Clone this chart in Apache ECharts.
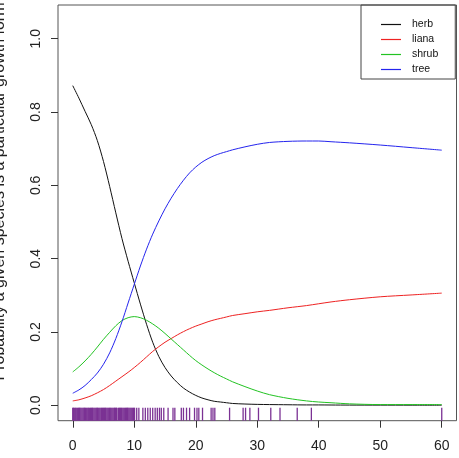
<!DOCTYPE html>
<html>
<head>
<meta charset="utf-8">
<script src="https://cdn.jsdelivr.net/npm/echarts@6/dist/echarts.min.js"></script>
<style>
  html, body { margin: 0; padding: 0; background: #fff; }
  #main { width: 459px; height: 458px; }
</style>
</head>
<body>
<div id="main"></div>
<script>
// x grid for the fitted curves
var curveX = [0, 1, 2, 3, 4, 5, 6, 7, 8, 9, 10, 11, 12, 13, 14, 15, 16, 17, 18, 19, 20, 21, 22, 23, 24, 25, 26,
  28, 30, 32, 35, 38, 40, 42, 45, 50, 55, 60];
var herb  = [0.872, 0.838, 0.802, 0.766, 0.722, 0.665, 0.597, 0.525, 0.455, 0.393, 0.334, 0.276, 0.221, 0.172, 0.133, 0.103,
  0.080, 0.062, 0.047, 0.036, 0.027, 0.020, 0.015, 0.011, 0.009, 0.007, 0.005,
  0.0035, 0.0025, 0.002, 0.0015, 0.001, 0.001, 0.0008, 0.0006, 0.0005, 0.0004, 0.0003];
var liana = [0.012, 0.015, 0.020, 0.026, 0.034, 0.043, 0.054, 0.066, 0.078, 0.090, 0.103, 0.117, 0.132, 0.147, 0.160, 0.172,
  0.182, 0.192, 0.201, 0.209, 0.216, 0.222, 0.228, 0.233, 0.237, 0.241, 0.245,
  0.250, 0.255, 0.259, 0.266, 0.272, 0.277, 0.282, 0.288, 0.296, 0.301, 0.306];
var shrub = [0.091, 0.105, 0.121, 0.139, 0.159, 0.180, 0.199, 0.217, 0.231, 0.239, 0.242, 0.239, 0.232, 0.222, 0.210, 0.196,
  0.181, 0.166, 0.151, 0.136, 0.122, 0.110, 0.099, 0.089, 0.080, 0.072, 0.064,
  0.051, 0.039, 0.029, 0.019, 0.012, 0.009, 0.007, 0.004, 0.002, 0.002, 0.002];
var tree  = [0.033, 0.042, 0.054, 0.070, 0.088, 0.112, 0.143, 0.182, 0.228, 0.279, 0.330, 0.380, 0.426, 0.467, 0.503, 0.536,
  0.565, 0.591, 0.614, 0.634, 0.650, 0.663, 0.673, 0.681, 0.687, 0.692, 0.697,
  0.705, 0.712, 0.717, 0.720, 0.721, 0.721, 0.719, 0.716, 0.710, 0.703, 0.696];

// observed x values drawn as a rug
var rugX = [0, 0.1, 0.25, 0.4, 0.5, 0.65, 0.8, 0.95, 1.1, 1.2, 1.35, 1.5, 1.65, 1.8, 1.9, 2.05, 2.2, 2.35, 2.5, 2.6,
  2.75, 2.9, 3.05, 3.2, 3.3, 3.45, 3.6, 3.75, 3.9, 4.0, 4.15, 4.3, 4.45, 4.6, 4.7, 4.85, 5.0, 5.15, 5.3, 5.4,
  5.55, 5.7, 5.85, 6.0, 6.1, 6.25, 6.4, 6.55, 6.7, 6.8, 6.95, 7.1, 7.2,
  7.45, 7.6, 7.75, 7.9, 8.0, 8.15, 8.3, 8.45, 8.6, 8.75, 8.9, 9.0,
  9.15, 9.3, 9.45, 9.6, 9.75, 9.9,
  10.05, 10.4, 10.75, 11.4, 11.8, 12.2, 12.6, 13.0, 13.4, 13.75, 14.1, 14.4, 14.8, 15.5, 16.3, 16.6,
  17.65, 18.0, 18.5, 19.0, 19.8, 20.2, 20.5, 21.1, 22.5, 22.8, 23.1, 25.5, 27.7, 28.1, 28.8, 30.2,
  32.2, 33.7, 36.5, 38.8, 60];

var xTicks = [0, 10, 20, 30, 40, 50, 60];
var yTicks = [0, 0.2, 0.4, 0.6, 0.8, 1.0];

var names  = ['herb', 'liana', 'shrub', 'tree'];
var colors = ['#111111', '#ee2222', '#22c322', '#2424ee'];

var X_MIN = -2.4, X_MAX = 62.4;
var Y_MIN = -0.042, Y_MAX = 1.092;
var FONT = 'Liberation Sans, Arial, sans-serif';

function pairs(ys) {
    return curveX.map(function (x, i) { return [x, ys[i]]; });
}

function lineSeries(name, ys, color) {
    return {
        name: name,
        type: 'line',
        data: pairs(ys),
        smooth: 0.3,
        symbol: 'none',
        lineStyle: {width: 1, color: color},
        itemStyle: {color: color},
        silent: true
    };
}

var chart = echarts.init(document.getElementById('main'), null, {renderer: 'canvas'});

var option = {
    animation: false,
    backgroundColor: '#fff',
    grid: {
        left: 58, right: 2.5, top: 5, bottom: 37.3,
        show: true, borderColor: '#555', borderWidth: 1
    },
    legend: {
        orient: 'vertical',
        left: 361,
        top: 5,
        padding: [14, 17, 4, 20],
        itemWidth: 20,
        itemHeight: 12,
        itemGap: 4,
        borderColor: '#444',
        borderWidth: 1,
        selectedMode: false,
        textStyle: {fontSize: 10.5, color: '#111', fontFamily: FONT, padding: [0, 0, 0, 6]},
        data: names.map(function (n, i) {
            return {name: n, icon: 'path://M0,0H20V1.2H0Z', itemStyle: {color: colors[i], opacity: 1}};
        })
    },
    xAxis: {
        type: 'value',
        min: X_MIN,
        max: X_MAX,
        axisLine: {show: false, onZero: false},
        splitLine: {show: false},
        axisTick: {show: true, customValues: xTicks, length: 7, lineStyle: {color: '#333'}},
        axisLabel: {customValues: xTicks, margin: 18, fontSize: 14, color: '#222', fontFamily: FONT}
    },
    yAxis: {
        type: 'value',
        min: Y_MIN,
        max: Y_MAX,
        axisLine: {show: false, onZero: false},
        splitLine: {show: false},
        axisTick: {show: true, customValues: yTicks, length: 7, lineStyle: {color: '#333'}},
        axisLabel: {
            customValues: yTicks, rotate: 90, margin: 15, fontSize: 14, color: '#222', fontFamily: FONT,
            formatter: function (v) { return v.toFixed(1); }
        }
    },
    graphic: [{
        type: 'text',
        x: -0.5,
        y: 191.5,
        rotation: Math.PI / 2,
        style: {
            text: 'Probability a given species is a particular growth form',
            fontSize: 16,
            fontFamily: FONT,
            fill: '#222',
            textAlign: 'center',
            textVerticalAlign: 'middle'
        },
        silent: true
    }],
    series: [
        lineSeries(names[0], herb, colors[0]),
        lineSeries(names[1], liana, colors[1]),
        lineSeries(names[2], shrub, colors[2]),
        lineSeries(names[3], tree, colors[3]),
        {
            type: 'custom',
            silent: true,
            data: rugX.map(function (v) { return [v, Y_MIN]; }),
            renderItem: function (params, api) {
                var p = api.coord([api.value(0), Y_MIN]);
                return {
                    type: 'line',
                    shape: {x1: p[0], y1: p[1], x2: p[0], y2: p[1] - 13},
                    style: {stroke: '#7b3294', lineWidth: 1.3}
                };
            }
        }
    ]
};

chart.setOption(option);
</script>
</body>
</html>
